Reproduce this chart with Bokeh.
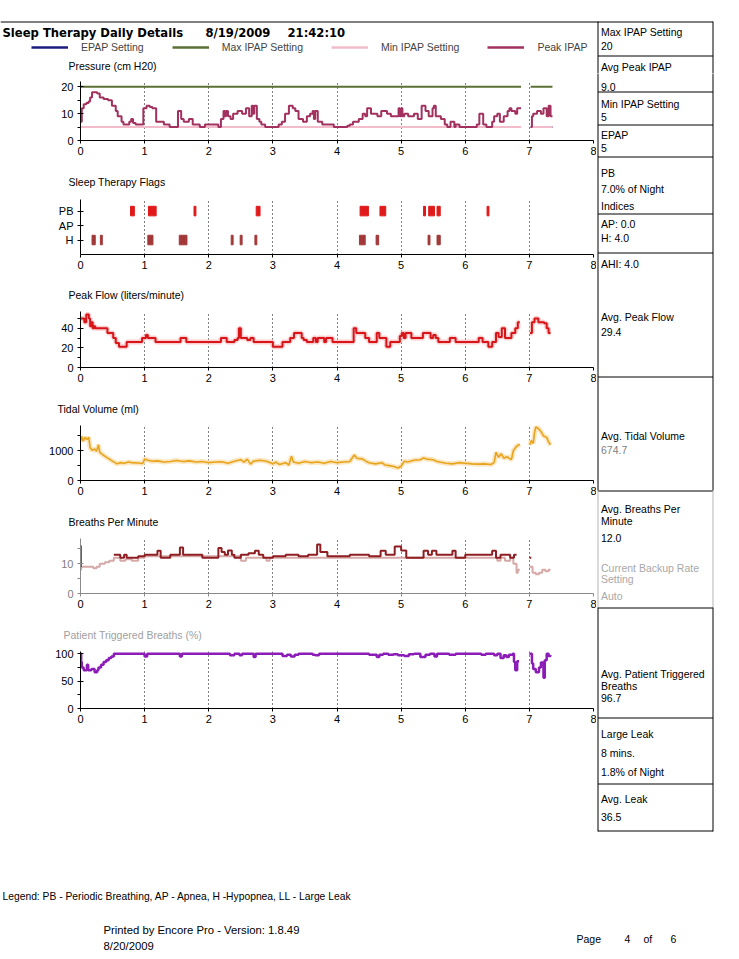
import math
from bokeh.plotting import figure
from bokeh.models import Range1d, FixedTicker, Legend, LegendItem
from bokeh.layouts import column, row
from bokeh.embed import file_html
from bokeh.resources import INLINE
from bokeh.core.properties import value

NAN = float("nan")
GAP = (NAN, NAN)

# ---------------------------------------------------------------- data
REPORT_TITLE = "Sleep Therapy Daily Details"
REPORT_DATE = "8/19/2009"
REPORT_TIME = "21:42:10"
HOUR_TICKS = [0, 1, 2, 3, 4, 5, 6, 7, 8]

SESSION_SPANS = [(0.0, 6.87), (7.02, 7.36)]
MAX_IPAP_SETTING = 20
MIN_IPAP_SETTING = 5
EPAP_SETTING = 5

PRESSURE_TITLE = "Pressure (cm H20)"
PRESSURE_LEGEND = ["EPAP Setting", "Max IPAP Setting", "Min IPAP Setting", "Peak IPAP"]

PEAK_IPAP = [
    (0.00, 7), (0.02, 12), (0.05, 13.5), (0.09, 14), (0.125, 14.5), (0.15, 16), (0.18, 18), (0.22, 18),
    (0.26, 17.5), (0.30, 16), (0.36, 15.5), (0.43, 15), (0.49, 13), (0.55, 11), (0.58, 9), (0.64, 7),
    (0.67, 6), (0.76, 7), (0.79, 8), (0.82, 6.5), (0.86, 6), (0.98, 12), (1.03, 13), (1.08, 12.5),
    (1.12, 12), (1.18, 7), (1.30, 6), (1.39, 5), (1.52, 11), (1.57, 8), (1.61, 7), (1.69, 8),
    (1.75, 6), (1.86, 5), (1.94, 6), (2.15, 5), (2.19, 8), (2.23, 11), (2.25, 9), (2.27, 11),
    (2.30, 9), (2.34, 8), (2.38, 10), (2.45, 11), (2.52, 10), (2.58, 12), (2.63, 9), (2.67, 13),
    (2.69, 10), (2.71, 13), (2.75, 8), (2.79, 7), (2.82, 6), (2.88, 5), (3.09, 6), (3.14, 7),
    (3.19, 10), (3.25, 13), (3.31, 12), (3.35, 11), (3.40, 8), (3.47, 7), (3.53, 9), (3.58, 10),
    (3.62, 11), (3.64, 8), (3.66, 11), (3.70, 7), (3.77, 6), (3.95, 5), (4.16, 5.5), (4.20, 6),
    (4.25, 7), (4.34, 8), (4.40, 10), (4.44, 9), (4.47, 12), (4.53, 10), (4.63, 9), (4.69, 11),
    (4.78, 10), (4.84, 9), (4.96, 12), (4.98, 9), (5.00, 12), (5.02, 9), (5.05, 10), (5.11, 9),
    (5.20, 10), (5.26, 8), (5.32, 13), (5.38, 11), (5.43, 9), (5.49, 12), (5.51, 13), (5.54, 9),
    (5.62, 8), (5.68, 6), (5.72, 5), (5.77, 7), (5.83, 5), (5.85, 6), (5.91, 5), (6.18, 6),
    (6.22, 10), (6.28, 6), (6.33, 5), (6.42, 7), (6.45, 9), (6.50, 10), (6.54, 7), (6.60, 9),
    (6.66, 11), (6.69, 12), (6.72, 11), (6.78, 10), (6.81, 12), (6.87, 12),
    GAP,
    (7.02, 5), (7.04, 9), (7.06, 10), (7.12, 11), (7.18, 10), (7.22, 12), (7.27, 9), (7.30, 13),
    (7.33, 9), (7.36, 9),
]

FLAG_CATEGORIES = {1: "H", 2: "AP", 3: "PB"}
PB_FLAGS = [(0.78, 0.84), (1.06, 1.18), (1.77, 1.80), (2.74, 2.80), (4.36, 4.49), (4.67, 4.76),
            (5.35, 5.38), (5.43, 5.52), (5.56, 5.61), (6.34, 6.37)]
AP_FLAGS = []
H_FLAGS = [(0.18, 0.23), (0.31, 0.34), (1.05, 1.13), (1.54, 1.66), (2.35, 2.38), (2.49, 2.52),
           (2.72, 2.75), (4.35, 4.44), (4.61, 4.65), (5.42, 5.45), (5.56, 5.61)]

PEAK_FLOW = [
    (0.00, 50), (0.06, 46), (0.09, 54), (0.13, 50), (0.15, 42), (0.17, 46), (0.19, 40), (0.21, 42),
    (0.23, 40), (0.42, 35), (0.51, 30), (0.55, 25), (0.60, 21), (0.72, 26), (0.96, 30), (1.02, 33),
    (1.05, 30), (1.17, 26), (1.56, 30), (1.65, 26), (2.19, 30), (2.28, 26), (2.40, 28), (2.45, 30),
    (2.47, 40), (2.50, 30), (2.60, 28), (2.65, 30), (2.70, 26), (3.00, 21), (3.15, 26), (3.27, 30),
    (3.33, 35), (3.45, 30), (3.48, 28), (3.53, 26), (3.63, 30), (3.67, 26), (3.70, 30), (3.80, 26),
    (3.83, 30), (3.93, 26), (4.26, 40), (4.30, 35), (4.44, 30), (4.50, 26), (4.62, 35), (4.66, 30),
    (4.77, 21), (4.83, 26), (4.98, 32), (5.01, 35), (5.04, 30), (5.07, 35), (5.16, 30), (5.34, 35),
    (5.46, 30), (5.50, 33), (5.54, 30), (5.58, 26), (5.76, 30), (5.85, 26), (6.21, 30), (6.27, 26),
    (6.36, 21), (6.42, 26), (6.48, 35), (6.52, 31), (6.57, 40), (6.62, 30), (6.72, 35), (6.78, 40),
    (6.82, 46), (6.85, 46),
    GAP,
    (7.01, 35), (7.04, 46), (7.08, 50), (7.14, 46), (7.23, 45), (7.27, 40), (7.30, 35), (7.33, 35),
]

TIDAL_VOLUME = [
    (0.00, 1350), (0.02, 1480), (0.04, 1320), (0.07, 1450), (0.10, 1380), (0.13, 1450), (0.15, 1100),
    (0.18, 1020), (0.22, 1060), (0.25, 980), (0.28, 1200), (0.30, 950), (0.35, 860), (0.42, 760),
    (0.50, 650), (0.57, 560), (0.62, 600), (0.68, 580), (0.75, 620), (0.80, 600), (0.90, 590),
    (0.97, 570), (1.00, 720), (1.05, 680), (1.12, 650), (1.20, 660), (1.30, 620), (1.40, 640),
    (1.50, 670), (1.60, 640), (1.70, 660), (1.80, 620), (1.90, 640), (2.00, 600), (2.10, 620),
    (2.20, 630), (2.30, 580), (2.40, 650), (2.50, 700), (2.55, 620), (2.60, 720), (2.65, 550),
    (2.70, 650), (2.80, 680), (2.90, 650), (3.00, 560), (3.05, 620), (3.10, 540), (3.20, 600),
    (3.25, 520), (3.29, 820), (3.32, 620), (3.40, 580), (3.50, 640), (3.60, 600), (3.70, 620),
    (3.80, 580), (3.90, 640), (4.00, 600), (4.10, 620), (4.20, 640), (4.27, 860), (4.31, 750),
    (4.40, 720), (4.45, 650), (4.50, 600), (4.60, 560), (4.70, 600), (4.75, 520), (4.82, 500),
    (4.90, 460), (4.95, 420), (5.00, 480), (5.05, 650), (5.10, 620), (5.20, 680), (5.30, 700),
    (5.35, 760), (5.40, 720), (5.50, 700), (5.55, 650), (5.60, 620), (5.70, 580), (5.80, 560),
    (5.90, 600), (6.00, 580), (6.10, 560), (6.20, 550), (6.30, 560), (6.40, 540), (6.45, 600),
    (6.48, 950), (6.52, 780), (6.56, 900), (6.60, 750), (6.65, 800), (6.72, 700), (6.75, 1000),
    (6.80, 1150), (6.85, 1220),
    GAP,
    (7.01, 1200), (7.03, 1350), (7.06, 1250), (7.08, 1600), (7.10, 1800), (7.14, 1750), (7.18, 1650),
    (7.22, 1500), (7.27, 1450), (7.30, 1300), (7.33, 1200),
]

BREATHS_PER_MIN = [
    (0.00, 9), (0.005, 16), (0.015, 16),
    GAP,
    (0.52, 13), (0.62, 12), (0.68, 13), (0.72, 12), (0.80, 12), (0.90, 12.5), (1.00, 13), (1.20, 14.4),
    (1.25, 12), (1.40, 13), (1.55, 15.5), (1.60, 13), (1.90, 12), (2.15, 15.3), (2.20, 14), (2.25, 13),
    (2.30, 14.5), (2.36, 13), (2.40, 12), (2.50, 13), (2.62, 13.5), (2.72, 14.4), (2.78, 13),
    (2.85, 12), (3.00, 12.5), (3.20, 13), (3.40, 12.5), (3.55, 13), (3.69, 16.5), (3.74, 14),
    (3.85, 12.5), (4.20, 13), (4.50, 12.5), (4.68, 14.4), (4.76, 13), (4.90, 15.8), (5.00, 14.5),
    (5.08, 12), (5.35, 14.4), (5.42, 13), (5.48, 14.4), (5.55, 13), (5.80, 14.4), (5.85, 12),
    (6.00, 13), (6.42, 14.4), (6.48, 12), (6.55, 13), (6.70, 12), (6.76, 13), (6.80, 13),
    GAP,
    (7.00, 12), (7.03, 12),
]

TOTAL_RATE = [
    (0.00, 8), (0.01, 9), (0.20, 8.5), (0.25, 9), (0.30, 10), (0.38, 10.5), (0.45, 11), (0.52, 12),
    (0.62, 11), (0.70, 11.5), (0.80, 11), (0.90, 12), (1.00, 12.5), (2.50, 11), (2.58, 12),
    (2.90, 11), (2.95, 12), (6.50, 11), (6.55, 12), (6.62, 11), (6.70, 12), (6.75, 10), (6.80, 7),
    (6.82, 8), (6.85, 8),
    GAP,
    (7.00, 9), (7.05, 7), (7.10, 6.5), (7.15, 7), (7.20, 8), (7.25, 7.5), (7.30, 8), (7.33, 8),
]

PATIENT_TRIGGERED = [
    (0.00, 100), (0.01, 85), (0.02, 75), (0.05, 70), (0.10, 80), (0.12, 70), (0.17, 72), (0.22, 66),
    (0.26, 70), (0.28, 75), (0.32, 80), (0.36, 85), (0.40, 88), (0.44, 92), (0.48, 95), (0.52, 100),
    (1.00, 95), (1.04, 100), (1.55, 95), (1.58, 100), (2.33, 97), (2.40, 100), (2.48, 97), (2.52, 100),
    (2.70, 94), (2.73, 100), (3.15, 96), (3.22, 98), (3.28, 95), (3.34, 98), (3.40, 100), (3.62, 98),
    (3.66, 97), (3.72, 100), (4.50, 98), (4.62, 94), (4.66, 98), (4.72, 100), (4.80, 98), (4.88, 99),
    (4.95, 97), (5.05, 96), (5.12, 99), (5.20, 100), (5.30, 94), (5.38, 98), (5.45, 100), (5.52, 95),
    (5.56, 100), (5.75, 98), (5.85, 100), (6.25, 98), (6.32, 100), (6.45, 97), (6.50, 100), (6.55, 92),
    (6.60, 97), (6.64, 94), (6.68, 98), (6.74, 100), (6.76, 85), (6.78, 70), (6.81, 86), (6.84, 86),
    GAP,
    (7.00, 100), (7.04, 82), (7.06, 72), (7.10, 66), (7.15, 75), (7.18, 84), (7.22, 56), (7.24, 88),
    (7.27, 100), (7.30, 96), (7.33, 97),
]

# right-hand summary panel: (text, row centre, colour)
SUMMARY_ROWS = [
    ("Max IPAP Setting", 31, "#000000"), ("20", 45, "#000000"),
    ("Avg Peak IPAP", 66, "#000000"), ("9.0", 86, "#000000"),
    ("Min IPAP Setting", 103, "#000000"), ("5", 116, "#000000"),
    ("EPAP", 134, "#000000"), ("5", 147, "#000000"),
    ("PB", 172, "#000000"), ("7.0% of Night", 188, "#000000"), ("Indices", 205, "#000000"),
    ("AP: 0.0", 223, "#000000"), ("H: 4.0", 237, "#000000"),
    ("AHI: 4.0", 263, "#000000"),
    ("Avg. Peak Flow", 316, "#000000"), ("29.4", 331, "#000000"),
    ("Avg. Tidal Volume", 435, "#000000"), ("674.7", 449, "#808080"),
    ("Avg. Breaths Per", 508, "#000000"), ("Minute", 520, "#000000"), ("12.0", 537, "#000000"),
    ("Current Backup Rate", 567, "#a8a8a8"), ("Setting", 578, "#a8a8a8"), ("Auto", 595, "#a8a8a8"),
    ("Avg. Patient Triggered", 673, "#000000"), ("Breaths", 685, "#000000"), ("96.7", 697, "#000000"),
    ("Large Leak", 733, "#000000"), ("8 mins.", 752, "#000000"), ("1.8% of Night", 771, "#000000"),
    ("Avg. Leak", 798, "#000000"), ("36.5", 816, "#000000"),
]
SUMMARY_EDGES = [21, 55, 91, 124, 156, 213, 252, 376, 490, 607, 717, 783, 830]

FOOTER_LEGEND = "Legend: PB - Periodic Breathing, AP - Apnea, H -Hypopnea, LL - Large Leak"
PRINTED_BY = "Printed by Encore Pro - Version: 1.8.49"
PRINTED_ON = "8/20/2009"
PAGE_WORD, PAGE_NO, PAGE_OF, PAGE_TOTAL = "Page", "4", "of", "6"

# ---------------------------------------------------------------- style
FONT = "Liberation Sans"
BOLD_FONT = "DejaVu Sans"
TXT = "10.5px"
LEFT_W = 596
RIGHT_W = 127
FULL_W = LEFT_W + RIGHT_W
HDR_H = 73
EPAP_C = "#1c1c80"
MAXI_C = "#5b7034"
MINI_C = "#f2bccb"
PEAK_C = "#a2315f"
PB_C = "#e01a1a"
H_C = "#a23838"
FLOW_C = "#d8161a"
FLOW_HALO = "#f6b8b8"
TV_C = "#e8a41c"
TV_HALO = "#f9e0b2"
BPM_C = "#8e1e22"
RATE_C = "#d6a8a8"
PTB_C = "#8c1cb8"


def runs(pairs):
    out, cur = [], []
    for x, y in pairs:
        if math.isnan(x):
            if cur:
                out.append(cur)
            cur = []
        else:
            cur.append((x, y))
    if cur:
        out.append(cur)
    return [([a for a, _ in r], [b for _, b in r]) for r in out]


def blank(width, height, xr, yr):
    p = figure(width=width, height=height, x_range=Range1d(*xr), y_range=Range1d(*yr),
               output_backend="svg", toolbar_location=None, min_border=0,
               min_border_left=0, min_border_right=0, min_border_top=0, min_border_bottom=0,
               x_axis_location=None, y_axis_location=None)
    p.grid.visible = False
    p.outline_line_color = None
    p.background_fill_color = "white"
    p.border_fill_color = "white"
    return p


def summary_panel(p, y_lo, y_hi):
    """Boxes and texts of the summary column, drawn in page-pixel data space."""
    p.segment(x0=[0 if e == SUMMARY_EDGES[0] else 597.5 for e in SUMMARY_EDGES],
              y0=[e + 0.5 for e in SUMMARY_EDGES],
              x1=[712.5] * len(SUMMARY_EDGES),
              y1=[e + 0.5 for e in SUMMARY_EDGES], line_color="#000000", line_width=1)
    p.segment(x0=[597.5, 597.5, 597.5, 712.5, 712.5, 712.5],
              y0=[21, 490, 607, 21, 490, 607],
              x1=[597.5, 597.5, 597.5, 712.5, 712.5, 712.5],
              y1=[490, 607, 831, 490, 607, 831],
              line_color=["#000000", "#b4b4b4", "#000000", "#000000", "#b4b4b4", "#000000"],
              line_width=1)
    rows = [r for r in SUMMARY_ROWS if y_lo <= r[1] < y_hi]
    p.text(x=[600.5] * len(rows), y=[r[1] for r in rows], text=[r[0] for r in rows],
           text_color=[r[2] for r in rows], text_font=value(FONT), text_font_size=TXT,
           text_baseline="middle")


def chart(title, title_x, height, top, bottom, standoff, y_end, y_major, y_minor,
          title_color="#000000", axis_color="#000000", ylabel_color="#000000"):
    p = figure(width=LEFT_W, height=height, x_range=Range1d(0, 8), y_range=Range1d(0, y_end),
               output_backend="svg", toolbar_location=None, title=title,
               min_border_left=80, min_border_right=LEFT_W - 80 - 513,
               min_border_top=top, min_border_bottom=bottom)
    if title is not None:
        p.title.align = "left"
        p.title.offset = title_x - 80
        p.title.standoff = standoff
        p.title.text_font = FONT
        p.title.text_font_size = TXT
        p.title.text_font_style = "normal"
        p.title.text_color = title_color
    p.outline_line_color = None
    p.background_fill_color = "white"
    p.border_fill_color = "white"
    p.xaxis.ticker = FixedTicker(ticks=HOUR_TICKS)
    p.yaxis.ticker = FixedTicker(ticks=y_major, minor_ticks=y_minor)
    p.xgrid.ticker = FixedTicker(ticks=HOUR_TICKS[1:-1])
    p.xgrid.grid_line_color = "#000000"
    p.xgrid.grid_line_dash = "1 3"
    p.xgrid.grid_line_width = 1
    p.ygrid.visible = False
    p.axis.axis_line_color = axis_color
    p.axis.major_tick_line_color = axis_color
    p.axis.minor_tick_line_color = axis_color
    p.axis.major_label_text_font = FONT
    p.axis.major_label_text_font_size = "11px"
    p.xaxis.major_label_text_color = "#000000"
    p.yaxis.major_label_text_color = ylabel_color
    p.xaxis.major_tick_in = 0
    p.xaxis.major_tick_out = 3
    p.xaxis.minor_tick_line_color = None
    p.xaxis.major_label_standoff = 3
    p.yaxis.major_tick_in = 3
    p.yaxis.major_tick_out = 3
    p.yaxis.minor_tick_in = 0
    p.yaxis.minor_tick_out = 3
    p.yaxis.major_label_standoff = 4
    return p


# ---------------------------------------------------------------- header (full width)
hdr = blank(FULL_W, HDR_H, (0, FULL_W), (HDR_H, 0))
hdr.text(x=[2, 205, 287], y=[32, 32, 32], text=[REPORT_TITLE, REPORT_DATE, REPORT_TIME],
         text_font=value(BOLD_FONT), text_font_size="11.6px", text_font_style="bold",
         text_baseline="middle", text_color="#000000")
hdr.text(x=[68], y=[65], text=[PRESSURE_TITLE], text_font=value(FONT), text_font_size=TXT,
         text_baseline="middle", text_color="#000000")
summary_panel(hdr, 0, HDR_H)
# legend swatches (no visible data of their own)
swatches = [hdr.line(x=[NAN], y=[NAN], line_color=c, line_width=2.5)
            for c in [EPAP_C, MAXI_C, MINI_C, PEAK_C]]
legend = Legend(items=[LegendItem(label=lab, renderers=[r]) for lab, r in zip(PRESSURE_LEGEND, swatches)],
                orientation="horizontal", location=(31, HDR_H - 47 - 6), glyph_width=37,
                glyph_height=12, label_standoff=13, spacing=28, padding=0, margin=0,
                border_line_color=None, background_fill_alpha=0, label_text_font=FONT,
                label_text_font_size=TXT, label_height=12)
hdr.add_layout(legend)

# ---------------------------------------------------------------- pressure
p1 = chart(None, 68, 162 - HDR_H, 81 - HDR_H, 22, 0, 22, [0, 10, 20], [5, 15])
for a, b in SESSION_SPANS:
    p1.line([a, b], [MAX_IPAP_SETTING] * 2, line_color=MAXI_C, line_width=2)
    p1.line([a, b], [EPAP_SETTING] * 2, line_color=EPAP_C, line_width=2)
    p1.line([a, b], [MIN_IPAP_SETTING] * 2, line_color=MINI_C, line_width=2)
for xs, ys in runs(PEAK_IPAP):
    p1.step(xs, ys, mode="after", line_color=PEAK_C, line_width=2)

# ---------------------------------------------------------------- flags
p2 = chart("Sleep Therapy Flags", 68, 114, 37, 22, 23, 3.8, [1, 2, 3], [])
p2.yaxis.major_label_overrides = {k: v for k, v in FLAG_CATEGORIES.items()}
for flags, level, color in [(PB_FLAGS, 3, PB_C), (AP_FLAGS, 2, PB_C), (H_FLAGS, 1, H_C)]:
    if flags:
        p2.quad(left=[f[0] for f in flags], right=[f[1] for f in flags],
                bottom=[level - 0.33] * len(flags), top=[level + 0.33] * len(flags),
                fill_color=color, line_color=color)

# ---------------------------------------------------------------- peak flow
p3 = chart("Peak Flow (liters/minute)", 68, 114, 35, 23, 21, 57, [0, 20, 40], [10, 30, 50])
for xs, ys in runs(PEAK_FLOW):
    p3.step(xs, ys, mode="after", line_color=FLOW_HALO, line_width=5, line_alpha=0.7)
for xs, ys in runs(PEAK_FLOW):
    p3.step(xs, ys, mode="after", line_color=FLOW_C, line_width=2)

# ---------------------------------------------------------------- tidal volume
p4 = chart("Tidal Volume (ml)", 57, 113, 35, 23, 21, 1850, [0, 1000], [500, 1500])
for xs, ys in runs(TIDAL_VOLUME):
    p4.line(xs, ys, line_color=TV_HALO, line_width=5, line_alpha=0.8)
for xs, ys in runs(TIDAL_VOLUME):
    p4.line(xs, ys, line_color=TV_C, line_width=1.6)

# ---------------------------------------------------------------- breaths per minute
p5 = chart("Breaths Per Minute", 68, 113, 35, 23, 21, 18.5, [0, 10], [5, 15],
           axis_color="#8a8a8a", ylabel_color="#808080")
for xs, ys in runs(TOTAL_RATE):
    p5.step(xs, ys, mode="after", line_color=RATE_C, line_width=2)
for xs, ys in runs(BREATHS_PER_MIN):
    p5.step(xs, ys, mode="after", line_color=BPM_C, line_width=2)

# ---------------------------------------------------------------- patient triggered
p6 = chart("Patient Triggered Breaths (%)", 63, 122, 35, 30, 21, 104, [0, 50, 100], [25, 75],
           title_color="#a0a0a0")
for xs, ys in runs(PATIENT_TRIGGERED):
    p6.step(xs, ys, mode="after", line_color=PTB_C, line_width=2.5)

# ---------------------------------------------------------------- right summary panel
rp = blank(RIGHT_W, 840 - HDR_H, (LEFT_W, FULL_W), (840, HDR_H))
summary_panel(rp, HDR_H, 840)

# ---------------------------------------------------------------- footer
ft = blank(FULL_W, 110, (0, FULL_W), (950, 840))
ft.text(x=[2], y=[896], text=[FOOTER_LEGEND], text_font=value(FONT), text_font_size="10.3px",
        text_baseline="middle", text_color="#000000")
ft.text(x=[103, 103], y=[929, 945], text=[PRINTED_BY, PRINTED_ON], text_font=value(FONT),
        text_font_size="11.3px", text_baseline="middle", text_color="#000000")
ft.text(x=[576, 624, 643, 670], y=[938] * 4, text=[PAGE_WORD, PAGE_NO, PAGE_OF, PAGE_TOTAL],
        text_font=value(FONT), text_font_size="10.5px", text_baseline="middle",
        text_color="#000000")

charts = column(p1, p2, p3, p4, p5, p6, spacing=0)
root = column(hdr, row(charts, rp, spacing=0), ft, spacing=0)

open("out.html", "w").write(file_html(root, INLINE))
